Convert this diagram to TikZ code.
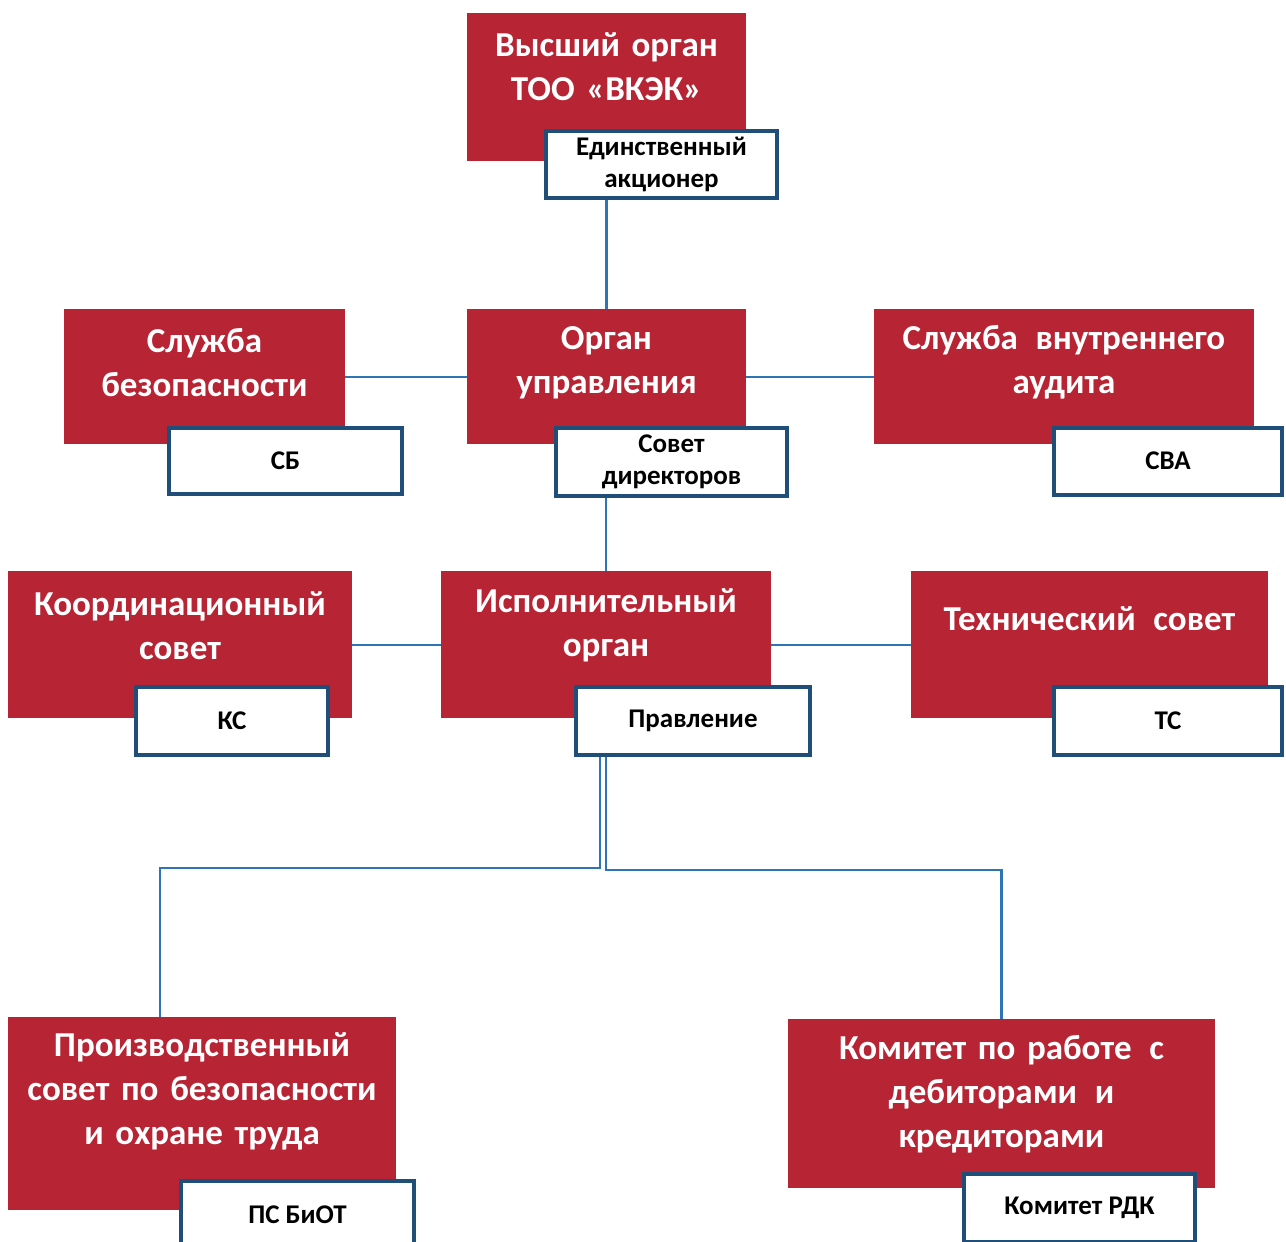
\documentclass[tikz,border=0pt]{standalone}
\usepackage{fontspec}
\setmainfont{Carlito}
\usetikzlibrary{positioning}
\definecolor{orgred}{RGB}{183,36,52}
\definecolor{tagblue}{RGB}{31,78,121}
\definecolor{linkblue}{RGB}{46,117,182}
\newcommand{\gap}{\hspace{3pt}}
\tikzset{
  x=0.5pt, y=-0.5pt,
  unit/.style={fill=orgred, text=white, anchor=north, inner sep=0pt,
    execute at begin node={\centering},
    font=\fontsize{17.5}{22}\selectfont\bfseries},
  lift/.style={execute at end node={\par\vspace{#1}}},
  tag/.style={draw=tagblue, line width=2pt, fill=white, inner sep=0pt, align=center,
    font=\fontsize{13.5}{16}\selectfont\bfseries},
  link/.style={draw=linkblue, line width=1.4pt},
}
\begin{document}
\begin{tikzpicture}
		\useasboundingbox (0,0) rectangle (1286,1242);

		% units
		\node[unit, text width=139.5pt, minimum height=74pt, lift=21pt] (vo) at (606.5,13) {Высший орган\\ТОО «ВКЭК»};
		\node[unit, text width=140.5pt, minimum height=67.5pt, lift=14.5pt] (sb) at (204.5,309) {Служба\\безопасности};
		\node[unit, text width=139.5pt, minimum height=67.5pt, lift=14.5pt] (ou) at (606.5,309) {Орган\\управления};
		\node[unit, text width=190pt, minimum height=67.5pt, lift=14.5pt] (sva) at (1064,309) {Служба\gap{} внутреннего\\аудита};
		\node[unit, text width=172pt, minimum height=73.5pt, lift=19.5pt] (ks) at (180,571) {Координационный\\совет};
		\node[unit, text width=165pt, minimum height=73.5pt, lift=19.5pt] (io) at (606,571) {Исполнительный\\орган};
		\node[unit, text width=178.5pt, minimum height=73.5pt, lift=26.5pt] (ts) at (1089.5,571) {Технический\gap{} совет};
		\node[unit, text width=194pt, minimum height=96.5pt, lift=23pt] (ps) at (202,1017) {Производственный\\совет по безопасности\\и охране труда};
		\node[unit, text width=213.5pt, minimum height=84.5pt, lift=9.5pt] (kom) at (1001.5,1019) {Комитет по работе\gap{} с\\дебиторами\gap{} и\\кредиторами};

		% tags
		\node[tag, minimum width=115.5pt, minimum height=33.5pt] (ea) at (661.5,164) {Единственный\\акционер};
		\node[tag, minimum width=116.5pt, minimum height=33pt] (sbt) at (285.5,461) {СБ};
		\node[tag, minimum width=115.5pt, minimum height=34pt] (sd) at (671.5,462) {Совет\\директоров};
		\node[tag, minimum width=114pt, minimum height=33.5pt] (svat) at (1168,461) {СВА};
		\node[tag, minimum width=96pt, minimum height=34pt] (kst) at (232,721) {КС};
		\node[tag, minimum width=117pt, minimum height=34pt] (pr) at (693,721) {Правление};
		\node[tag, minimum width=114pt, minimum height=34pt] (tst) at (1168,721) {ТС};
		\node[tag, minimum width=116.5pt, minimum height=34pt] (pst) at (297.5,1215) {ПС БиОТ};
		\node[tag, minimum width=115.5pt, minimum height=34pt] (rdk) at (1079.5,1208) {Комитет РДК};

		% links
		\draw[link] (ou.north |- ea.south) -- (ou.north);
		\draw[link] (sb.east) -- (ou.west);
		\draw[link] (ou.east) -- (sva.west);
		\draw[link] (io.north |- sd.south) -- (io.north);
		\draw[link] (ks.east) -- (io.west);
		\draw[link] (io.east) -- (ts.west);
		\draw[link] ([xshift=-46.5pt]pr.south) -- ++(0,111) -| ([xshift=-21pt]ps.north);
		\draw[link] ([xshift=-43.5pt]pr.south) -- ++(0,113) -| (kom.north);

	\end{tikzpicture}
\end{document}
